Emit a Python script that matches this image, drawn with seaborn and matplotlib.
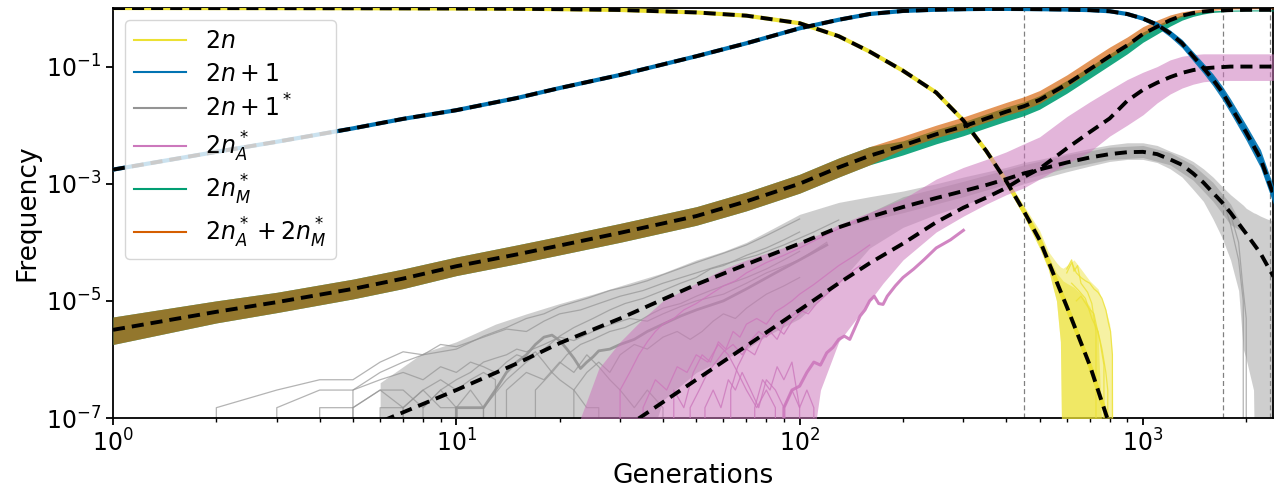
import numpy as np
import matplotlib
matplotlib.use("Agg")
import matplotlib.pyplot as plt
from matplotlib.lines import Line2D
from matplotlib.ticker import NullLocator
import seaborn as sns

NA = np.nan
LOW = 1e-9  # below the visible range (extinct lineages)

# ---------------- deterministic (mean-field) curves ----------------
gens = [1, 2, 3, 5, 7, 10, 15, 20, 30, 50, 70, 100, 130, 160, 200, 250, 300, 350, 400,
        450, 500, 600, 700, 800, 900, 1000, 1100, 1200, 1300, 1400, 1500, 1600, 1700,
        1800, 2000, 2200, 2400]
det_2n = [0.998, 0.996, 0.994, 0.99, 0.986, 0.98, 0.97, 0.955, 0.925, 0.84, 0.74, 0.55,
          0.33, 0.18, 0.085, 0.036, 0.012, 3.6e-3, 1.1e-3, 3.4e-4, 1.1e-4, 8e-6, 8e-7,
          7.5e-8, NA, NA, NA, NA, NA, NA, NA, NA, NA, NA, NA, NA, NA]
det_2n1 = [1.74e-3, 3.5e-3, 5.2e-3, 8.8e-3, 0.0128, 0.018, 0.029, 0.043, 0.072, 0.15,
           0.25, 0.45, 0.63, 0.79, 0.89, 0.935, 0.955, 0.965, 0.965, 0.96, 0.955, 0.94,
           0.92, 0.88, 0.79, 0.66, 0.52, 0.37, 0.25, 0.15, 0.095, 0.06, 0.037, 0.021,
           7.5e-3, 2.7e-3, 6.5e-4]
det_2n1s = [NA, NA, 1.7e-8, 5.5e-8, 1.25e-7, 3e-7, 8.5e-7, 1.9e-6, 5e-6, 1.9e-5, 4.2e-5,
            9.5e-5, 1.8e-4, 2.7e-4, 4e-4, 5.7e-4, 7.5e-4, 9.5e-4, 1.2e-3, 1.5e-3, 1.75e-3,
            2.3e-3, 2.8e-3, 3.2e-3, 3.45e-3, 3.5e-3, 3.2e-3, 2.6e-3, 2.1e-3, 1.5e-3,
            1.05e-3, 7e-4, 4.8e-4, 3.2e-4, 1.4e-4, 6.5e-5, 2.6e-5]
det_2nA = [NA, NA, NA, NA, NA, NA, NA, 1.2e-8, 6e-8, 4.5e-7, 1.7e-6, 7e-6, 2e-5, 4.4e-5,
           9.5e-5, 2.2e-4, 3.9e-4, 5.8e-4, 8.5e-4, 1.3e-3, 1.8e-3, 4e-3, 7.6e-3, 0.013,
           0.026, 0.04, 0.053, 0.066, 0.078, 0.087, 0.093, 0.096, 0.098, 0.1, 0.1, 0.1, 0.1]
det_sum = [3.2e-6, 6.5e-6, 9.5e-6, 1.6e-5, 2.4e-5, 3.9e-5, 6.2e-5, 8.8e-5, 1.45e-4, 2.8e-4,
           5e-4, 1e-3, 1.9e-3, 3e-3, 4.5e-3, 7e-3, 9.5e-3, 0.013, 0.017, 0.021, 0.027, 0.05,
           0.09, 0.15, 0.23, 0.36, 0.48, 0.62, 0.74, 0.82, 0.87, 0.9, 0.91, 0.92, 0.93,
           0.93, 0.93]

# ---------------- simulation ensembles (envelopes) ----------------
green_lo = [1.8e-6, 4.2e-6, 6.3e-6, 1.08e-5, 1.62e-5, 2.7e-5, 4.3e-5, 6.1e-5, 1e-4, 1.95e-4,
            3.45e-4, 6.9e-4, 1.3e-3, 2.1e-3, 3.1e-3, 4.8e-3, 6.6e-3, 9e-3, 1.17e-2, 1.45e-2,
            1.87e-2, 3.5e-2, 6.3e-2, 0.105, 0.165, 0.26, 0.36, 0.49, 0.62, 0.72, 0.79, 0.84,
            0.86, 0.88, 0.89, 0.89, 0.89]
green_hi = [5.3e-6, 1e-5, 1.4e-5, 2.35e-5, 3.5e-5, 5.6e-5, 9e-5, 1.27e-4, 2.1e-4, 4.05e-4,
            7.2e-4, 1.45e-3, 2.75e-3, 4.3e-3, 5.4e-3, 8.4e-3, 1.14e-2, 1.56e-2, 2.04e-2,
            2.5e-2, 3.2e-2, 5.8e-2, 0.1, 0.165, 0.25, 0.39, 0.51, 0.65, 0.76, 0.84, 0.88,
            0.9, 0.91, 0.92, 0.93, 0.93, 0.93]
orange_lo = [1.8e-6, 4.2e-6, 6.3e-6, 1.08e-5, 1.62e-5, 2.7e-5, 4.3e-5, 6.1e-5, 1e-4, 1.95e-4,
             3.45e-4, 6.9e-4, 1.3e-3, 2.1e-3, 3.9e-3, 6.1e-3, 8.3e-3, 1.13e-2, 1.48e-2,
             1.83e-2, 2.35e-2, 4.5e-2, 8.3e-2, 0.14, 0.215, 0.34, 0.46, 0.6, 0.72, 0.81,
             0.87, 0.91, 0.94, 0.96, 0.97, 0.97, 0.97]
orange_hi = [5.3e-6, 1e-5, 1.4e-5, 2.35e-5, 3.5e-5, 5.6e-5, 9e-5, 1.27e-4, 2.1e-4, 4.05e-4,
             7.2e-4, 1.45e-3, 2.75e-3, 4.3e-3, 6.5e-3, 1e-2, 1.38e-2, 1.88e-2, 2.45e-2,
             3.05e-2, 3.9e-2, 7.2e-2, 0.13, 0.215, 0.32, 0.48, 0.62, 0.76, 0.86, 0.92, 0.96,
             0.98, 0.99, 1.0, 1.0, 1.0, 1.0]

blue_gens = [700, 800, 900, 1000, 1100, 1200, 1300, 1400, 1500, 1600, 1700, 1800, 2000, 2200, 2400]
blue_lo = [0.9, 0.86, 0.76, 0.62, 0.47, 0.32, 0.21, 0.125, 0.077, 0.047, 0.028, 0.016, 5.5e-3, 1.9e-3, 4.5e-4]
blue_hi = [0.94, 0.9, 0.82, 0.70, 0.57, 0.42, 0.29, 0.18, 0.115, 0.075, 0.047, 0.028, 0.01, 3.8e-3, 9e-4]

yellow_gens = [400, 450, 500, 530, 560, 575, 585, 600, 630, 660, 700, 740, 780, 800, 815, 820]
yellow_lo = [9.5e-4, 2.8e-4, 8e-5, 3.5e-5, 1e-5, 2e-6, LOW, LOW, LOW, LOW, LOW, LOW, LOW, LOW, LOW, LOW]
yellow_hi = [1.25e-3, 4.2e-4, 1.6e-4, 7e-5, 4.5e-5, 3.8e-5, 3.6e-5, 4e-5, 5e-5, 3.5e-5,
             2.2e-5, 1.6e-5, 7e-6, 4e-6, 1.2e-6, LOW]
yellow_core = [1.2e-3, 4e-4, 1.4e-4, 6e-5, 3e-5, 2.5e-5, 2.2e-5, 2e-5, 1.7e-5, 1.3e-5,
               8e-6, 3e-6, LOW, LOW, LOW, LOW]

gray_gens = [6, 8, 10, 13, 16, 20, 25, 30, 40, 50, 60, 70, 80, 100, 130, 160, 200, 250,
             300, 400, 450, 500, 600, 700, 800, 900, 1000, 1100, 1200, 1300, 1400, 1500,
             1600, 1700, 1800, 1900, 1960, 2000, 2100, 2130, 2200, 2300, 2400]
gray_hi = [4e-7, 1.3e-6, 2e-6, 4e-6, 6e-6, 9e-6, 1.3e-5, 1.8e-5, 3e-5, 5e-5, 7e-5,
           1e-4, 1.5e-4, 3e-4, 4.8e-4, 6e-4, 7.5e-4, 1e-3, 1.3e-3, 1.9e-3, 2.3e-3, 2.6e-3,
           3.3e-3, 4e-3, 4.6e-3, 5e-3, 5e-3, 4.5e-3, 3.6e-3, 3e-3, 2.4e-3, 1.8e-3, 1.3e-3,
           9e-4, 6.5e-4, 5e-4, 4.3e-4, 3.8e-4, 3.2e-4, 3.1e-4, 2.8e-4, 2.5e-4, 2.3e-4]
gray_lo = [LOW, LOW, LOW, LOW, LOW, LOW, LOW, LOW, 2e-7, 6e-7, 1e-6, 1.5e-6, 2.5e-6,
           5e-6, 2e-5, 8e-5, 1.8e-4, 3e-4, 4.3e-4, 8e-4, 1e-3, 1.2e-3, 1.6e-3, 2e-3, 2.4e-3,
           2.6e-3, 2.6e-3, 2.3e-3, 1.8e-3, 1.3e-3, 8e-4, 5e-4, 2.5e-4, 1.2e-4, 5e-5, 1.5e-5,
           1.5e-6, 1e-6, 3e-7, LOW, LOW, LOW, LOW]
gray_core_gens = [130, 200, 300, 450, 600, 800, 1000, 1200, 1400, 1600, 1800, 2000]
gray_core_lo = [1.8e-4, 3.2e-4, 6e-4, 1.2e-3, 1.85e-3, 2.6e-3, 2.8e-3, 2.1e-3, 1.15e-3, 5e-4, 2e-4, 1.4e-4]
gray_core_hi = [1.8e-4, 6e-4, 1.1e-3, 2.1e-3, 3.1e-3, 4.2e-3, 4.5e-3, 3.4e-3, 2.1e-3, 1.05e-3, 4.5e-4, 1.4e-4]

pink_gens = [23, 26, 30, 35, 40, 50, 60, 70, 80, 100, 115, 130, 150, 175, 200, 250, 300,
             350, 400, 450, 500, 600, 700, 800, 900, 1000, 1100, 1200, 1300, 1400, 1500,
             1600, 1800, 2000, 2200, 2400]
pink_hi = [1e-7, 7e-7, 2e-6, 5e-6, 1e-5, 2e-5, 3.5e-5, 5e-5, 6.5e-5, 1e-4, 1.4e-4, 2e-4,
           2.8e-4, 4e-4, 5.5e-4, 1.2e-3, 1.9e-3, 2.6e-3, 3.5e-3, 4.8e-3, 6.3e-3, 1.4e-2,
           2.5e-2, 4e-2, 6e-2, 8e-2, 0.1, 0.13, 0.15, 0.16, 0.165, 0.165, 0.165, 0.165,
           0.165, 0.165]
pink_lo = [LOW, LOW, LOW, LOW, LOW, LOW, LOW, LOW, LOW, LOW, 3e-7, 2e-6, 6e-6, 2e-5, 5e-5,
           1.5e-4, 2.8e-4, 4.5e-4, 6.5e-4, 8.5e-4, 1.2e-3, 2.2e-3, 3.5e-3, 6.5e-3, 0.01,
           0.015, 0.024, 0.034, 0.043, 0.05, 0.055, 0.057, 0.058, 0.058, 0.058, 0.058]

# individual simulated lineages (0 = extinct)
gray_runs = [
    ([1, 2, 3, 4, 5, 6, 7, 8, 9, 10, 12, 14, 16, 18, 20, 23, 26, 30, 35, 40, 50, 60, 75, 90, 110, 130],
     [0, 1.5e-7, 3e-7, 4.5e-7, 4.5e-7, 9e-7, 1.35e-6, 1.2e-6, 1.8e-6, 1.65e-6, 2.4e-6, 3.3e-6, 3e-6,
      4.5e-6, 6e-6, 7e-6, 9e-6, 1.2e-5, 1.5e-5, 2e-5, 3e-5, 4.2e-5, 6e-5, 9e-5, 1.5e-4, 2.4e-4]),
    ([2, 3, 4, 5, 6, 7, 8, 9, 10, 11, 12, 13, 14, 15, 16, 17, 18, 19, 20, 22, 24, 26, 28],
     [0, 1.5e-7, 3e-7, 3e-7, 4.5e-7, 6e-7, 4.5e-7, 7.5e-7, 6e-7, 9e-7, 7.5e-7, 6e-7, 9e-7, 1.2e-6,
      1.05e-6, 1.35e-6, 9e-7, 6e-7, 4.5e-7, 3e-7, 1.5e-7, 1.5e-7, 0]),
    ([3, 4, 5, 6, 7, 8], [0, 1.5e-7, 1.5e-7, 3e-7, 1.5e-7, 0]),
    ([4, 5, 6, 7, 8, 9, 10, 11], [0, 1.5e-7, 3e-7, 3e-7, 1.5e-7, 3e-7, 1.5e-7, 0]),
    ([5, 6, 7, 8, 9, 10, 11, 12, 13, 14], [0, 1.5e-7, 1.5e-7, 3e-7, 4.5e-7, 3e-7, 4.5e-7, 6e-7, 4.5e-7, 0]),
    ([6, 7, 8, 9, 10, 11, 12, 13], [0, 1.5e-7, 3e-7, 1.5e-7, 1.5e-7, 3e-7, 1.5e-7, 0]),
    ([7, 8, 9, 10, 11, 12, 13, 14, 15, 16, 18, 20, 22, 25, 28, 32, 36, 40, 45, 50, 60, 70, 80, 100, 120],
     [0, 1.5e-7, 3e-7, 4.5e-7, 6e-7, 9e-7, 1.05e-6, 1.2e-6, 1.5e-6, 1.35e-6, 1.8e-6, 2.4e-6, 2.1e-6,
      3e-6, 3.9e-6, 5e-6, 4.5e-6, 6e-6, 8e-6, 1e-5, 1.3e-5, 2e-5, 3e-5, 5e-5, 1e-4]),
    ([10, 12, 14, 16, 18, 20, 22, 25, 28, 31, 35, 40, 45, 50, 55, 60, 70, 80, 90, 100],
     [0, 1.5e-7, 4.5e-7, 9e-7, 1.5e-6, 2.5e-6, 3.5e-6, 5e-6, 7e-6, 9e-6, 1.1e-5, 1.5e-5, 2e-5,
      2.5e-5, 3.5e-5, 4e-5, 6e-5, 8e-5, 1.1e-4, 1.5e-4]),
    ([4, 5, 6, 7, 8, 10, 12, 14, 16, 18, 20, 24, 28, 32, 36, 40, 50, 60, 70, 80, 100],
     [0, 3e-7, 6e-7, 9e-7, 1.2e-6, 1.5e-6, 2.5e-6, 3.5e-6, 5e-6, 6e-6, 8e-6, 1.1e-5, 1.5e-5,
      1.8e-5, 2.2e-5, 2.8e-5, 4.5e-5, 6.5e-5, 9e-5, 1.3e-4, 2.5e-4]),
    ([12, 14, 16, 18, 20, 22, 24, 26, 28, 30, 33, 36, 40, 45],
     [0, 3e-7, 6e-7, 4.5e-7, 9e-7, 6e-7, 1.2e-6, 7.5e-7, 4.5e-7, 3e-7, 1.5e-7, 3e-7, 1.5e-7, 0]),
    ([15, 17, 19, 21, 23, 25, 28, 31, 34, 37, 40, 45, 50, 55, 60, 70, 80, 90, 100],
     [0, 3e-7, 6e-7, 1.2e-6, 1.8e-6, 2.2e-6, 3e-6, 3.5e-6, 4.5e-6, 6e-6, 7.5e-6, 9e-6, 1.2e-5,
      1.5e-5, 1.8e-5, 2.5e-5, 3.5e-5, 5e-5, 7e-5]),
    ([20, 22, 24, 26, 28, 30, 33, 36, 40, 44, 48, 52, 56, 60, 65, 70, 75, 80, 90, 100],
     [0, 3e-7, 6e-7, 9e-7, 6e-7, 1.2e-6, 1.8e-6, 1.5e-6, 2.4e-6, 3e-6, 2.2e-6, 3e-6, 4.5e-6, 6e-6,
      5e-6, 7.5e-6, 1e-5, 1.3e-5, 1.8e-5, 2.5e-5]),
    ([1700, 1800, 1900, 1960, 1980], [6e-4, 2e-4, 5e-5, 1e-5, 0]),
    ([1800, 1900, 1950, 2000, 2020], [3e-4, 1e-4, 2e-5, 5e-6, 0]),
]
gray_bold_gens = [9, 10, 11, 12, 13, 14, 15, 16, 17, 18, 19, 20, 21, 22, 23, 24, 25, 26, 28,
                  30, 33, 36, 40, 45, 50, 60, 70, 85, 100, 120]
gray_bold_vals = [0, 1.5e-7, 1.5e-7, 1.5e-7, 3e-7, 6e-7, 9e-7, 1.2e-6, 1.8e-6, 2.4e-6, 2.6e-6,
                  2.1e-6, 1.5e-6, 1.05e-6, 7e-7, 9e-7, 1.1e-6, 1.4e-6, 1.5e-6, 1.8e-6, 2.2e-6,
                  3e-6, 4e-6, 5.5e-6, 7e-6, 1e-5, 1.6e-5, 3e-5, 5e-5, 9e-5]

pink_runs = [
    ([28, 30, 32, 34, 36, 38, 40, 43, 46, 50, 55, 60, 65, 70, 80, 90, 100, 115, 130, 150],
     [0, 3e-7, 6e-7, 1.2e-6, 2e-6, 3e-6, 4e-6, 5e-6, 7e-6, 9e-6, 1.3e-5, 1.8e-5, 2.2e-5, 3e-5,
      4.5e-5, 6e-5, 8e-5, 1.2e-4, 1.7e-4, 2.5e-4]),
    ([33, 35, 38, 41, 44, 47, 50, 54, 58, 62, 66, 70, 75, 80, 85, 90],
     [0, 1.5e-7, 4.5e-7, 3e-7, 7.5e-7, 6e-7, 1.2e-6, 9e-7, 1.8e-6, 1.2e-6, 6e-7, 3e-7, 1.5e-7,
      3e-7, 1.5e-7, 0]),
    ([40, 43, 46, 49, 52, 55, 58, 61, 64, 67, 70, 75, 80, 85, 90, 95, 100, 110, 120, 130, 145, 160],
     [0, 3e-7, 1.5e-7, 6e-7, 1.2e-6, 9e-7, 2e-6, 1.5e-6, 3e-6, 2.4e-6, 4e-6, 5e-6, 4e-6, 6.5e-6,
      8e-6, 1e-5, 1.3e-5, 1.9e-5, 2.8e-5, 4e-5, 6e-5, 9e-5]),
    ([50, 53, 56, 59, 62, 65, 68, 72, 76, 80, 85, 90, 95, 100, 105],
     [0, 1.5e-7, 3e-7, 1.5e-7, 4.5e-7, 3e-7, 6e-7, 3e-7, 1.5e-7, 4.5e-7, 3e-7, 1.5e-7, 3e-7, 1.5e-7, 0]),
    ([60, 63, 66, 70, 74, 78, 82, 86, 90, 95, 100, 106, 112, 120, 130, 140, 150],
     [0, 3e-7, 7.5e-7, 1.5e-6, 1.2e-6, 2.4e-6, 3e-6, 2.2e-6, 4e-6, 5.5e-6, 7e-6, 6e-6, 9e-6,
      1.3e-5, 2e-5, 3e-5, 4e-5]),
    ([45, 48, 51, 54, 57, 60, 64, 68, 72, 76, 80, 85, 90, 95, 100, 105],
     [0, 1.5e-7, 3e-7, 6e-7, 9e-7, 1.35e-6, 1.8e-6, 1.2e-6, 2.1e-6, 3e-6, 2.4e-6, 3.6e-6, 2.7e-6,
      4.5e-6, 6e-6, 8e-6]),
    ([70, 74, 78, 82, 86, 90, 95, 100, 105, 110, 115],
     [0, 1.5e-7, 4.5e-7, 3e-7, 7.5e-7, 4.5e-7, 9e-7, 1.5e-7, 3e-7, 1.5e-7, 0]),
]
pink_bold_gens = [85, 90, 95, 100, 105, 110, 115, 120, 125, 130, 135, 140, 145, 150, 155, 160,
                  165, 170, 175, 180, 190, 200, 215, 230, 250, 275, 300]
pink_bold_vals = [0, 1.5e-7, 3e-7, 3.5e-7, 6e-7, 9e-7, 8e-7, 1.3e-6, 1.6e-6, 2.2e-6, 2.5e-6,
                  2.2e-6, 3.5e-6, 5.5e-6, 7e-6, 1e-5, 1.2e-5, 9e-6, 8.7e-6, 1.2e-5, 1.8e-5,
                  2.5e-5, 3.5e-5, 5e-5, 8e-5, 1.1e-4, 1.6e-4]

yellow_runs = [
    ([600, 620, 640, 660, 680, 700, 720, 740, 760, 780, 795, 805, 815, 818],
     [3e-5, 4.5e-5, 3e-5, 2.5e-5, 2.2e-5, 2e-5, 1.6e-5, 1.4e-5, 1.1e-5, 7e-6, 4e-6, 3e-6, 1.2e-6, 0]),
    ([620, 650, 680, 710, 740, 760, 780, 790, 792],
     [2e-5, 1.5e-5, 1.1e-5, 5e-6, 3e-6, 1.5e-6, 6e-7, 3e-7, 0]),
    ([640, 660, 690, 720, 750, 770, 772], [1e-5, 1.2e-5, 8e-6, 6e-6, 2e-6, 8e-7, 0]),
    ([600, 620, 630, 645, 660, 690, 710, 730, 733],
     [3.5e-5, 5e-5, 3.2e-5, 4e-5, 2e-5, 1.4e-5, 9e-6, 3e-6, 0]),
]

event_gens = [450, 1710, 2350]

labels = ["$2n$", "$2n+1$", "$2n+1^*$", "$2n_A^*$", "$2n_M^*$", "$2n_A^*+2n_M^*$"]

# ---------------- drawing ----------------
pal = sns.color_palette("colorblind")
c_yel, c_blue, c_gray, c_pink, c_green, c_orange = pal[8], pal[0], pal[7], pal[4], pal[2], pal[3]

plt.rcParams["font.family"] = ["DejaVu Sans"]
fig = plt.figure(figsize=(12.79, 4.91), dpi=100)
ax = fig.add_axes([113 / 1279, 1 - 418 / 491, 1160 / 1279, 410 / 491])
ax.set_xscale("log")
ax.set_yscale("log", nonpositive="clip")
ax.set_xlim(1, 2393)
ax.set_ylim(1e-7, 1)

for g in event_gens:
    ax.axvline(g, color="0.5", lw=0.9, ls=(0, (4, 2.5)), zorder=1)

# gray (2n+1*)
ax.fill_between(gray_gens, gray_lo, gray_hi, color=c_gray, alpha=0.45, lw=0, zorder=2)
ax.fill_between(gray_core_gens, gray_core_lo, gray_core_hi, color=c_gray, alpha=0.5, lw=0, zorder=2)
for gx, gy in gray_runs:
    ax.plot(gx, gy, color=c_gray, lw=0.9, alpha=0.7, zorder=2)
ax.plot(gray_bold_gens, gray_bold_vals, color=c_gray, lw=2.0, alpha=0.9, zorder=2)

# yellow (2n)
sns.lineplot(x=gens, y=det_2n, color=c_yel, lw=3.0, ax=ax, zorder=3)
ax.fill_between(yellow_gens, yellow_lo, yellow_hi, color=c_yel, alpha=0.45, lw=0, zorder=3)
ax.fill_between(yellow_gens, yellow_lo, yellow_core, color=c_yel, alpha=0.55, lw=0, zorder=3)
for yx, yy in yellow_runs:
    ax.plot(yx, yy, color=c_yel, lw=0.9, alpha=0.8, zorder=3)

# pink (2n_A*)
ax.fill_between(pink_gens, pink_lo, pink_hi, color=c_pink, alpha=0.55, lw=0, zorder=3)
for px, py in pink_runs:
    ax.plot(px, py, color=c_pink, lw=0.9, alpha=0.8, zorder=3)
ax.plot(pink_bold_gens, pink_bold_vals, color=c_pink, lw=2.2, alpha=0.9, zorder=3)

# green / orange (2n_M*, sum)
ax.fill_between(gens, green_lo, green_hi, color=c_green, alpha=0.9, lw=0, zorder=3)
ax.fill_between(gens, orange_lo, orange_hi, color=c_orange, alpha=0.65, lw=0, zorder=3)

# blue (2n+1)
sns.lineplot(x=gens, y=det_2n1, color=c_blue, lw=3.0, ax=ax, zorder=3)
ax.fill_between(blue_gens, blue_lo, blue_hi, color=c_blue, alpha=0.9, lw=0, zorder=3)

# deterministic dashed curves
for det in (det_2n, det_2n1, det_2n1s, det_2nA, det_sum):
    sns.lineplot(x=gens, y=det, color="black", lw=2.8, linestyle=(0, (3.1, 1.8)), ax=ax, zorder=5)

handles = [Line2D([], [], color=c, lw=1.5) for c in (c_yel, c_blue, c_gray, c_pink, c_green, c_orange)]
ax.legend(handles, labels, loc="upper left", fontsize=17, handlelength=2.2,
          labelspacing=0.36, framealpha=0.8)

ax.set_yticks([1e-7, 1e-5, 1e-3, 1e-1])
ax.yaxis.set_minor_locator(NullLocator())
ax.tick_params(which="major", labelsize=17, length=5, width=1.3)
ax.tick_params(which="minor", length=3, width=1.0)
for s in ax.spines.values():
    s.set_linewidth(1.3)
ax.set_xlabel("Generations", fontsize=19)
ax.set_ylabel("Frequency", fontsize=19)

fig.savefig("out.png", dpi=100)
